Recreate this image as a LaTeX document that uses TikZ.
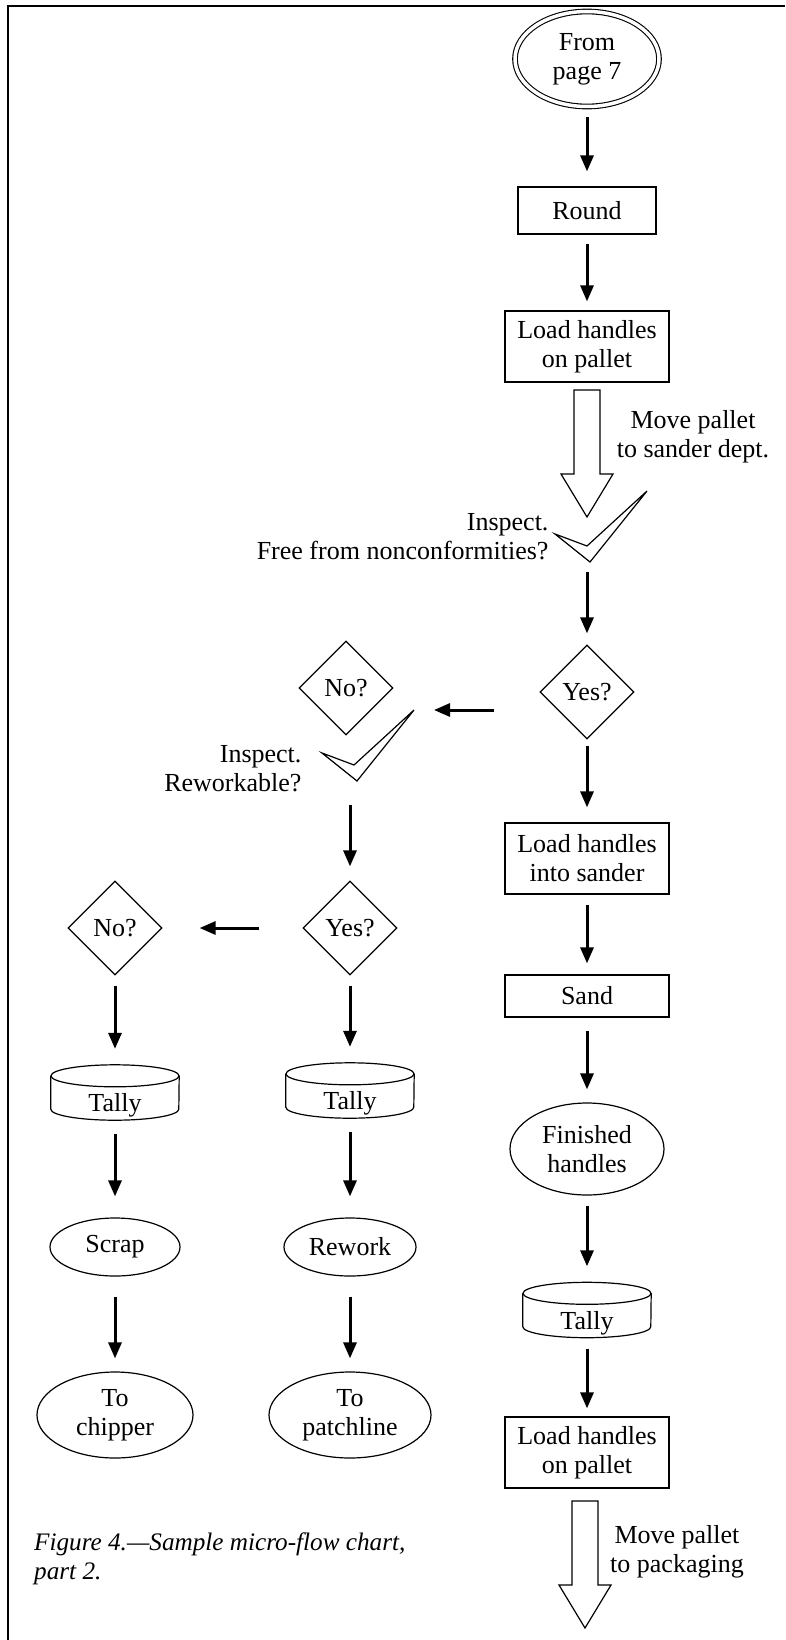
\documentclass[tikz,border=0pt]{standalone}
\usepackage{fontspec}
\setmainfont{Liberation Serif}
\usetikzlibrary{arrows.meta, shapes.geometric, calc}

\tikzset{
  chart/.style={line width=1.2pt},
  box/.style={chart, draw, rectangle, minimum width=164pt, inner sep=0pt, align=center},
  oval/.style={chart, draw, ellipse, inner sep=0pt, align=center},
  query/.style={chart, draw, diamond, minimum width=94pt, minimum height=94pt, inner sep=0pt},
  tallybox/.style={minimum width=128pt, minimum height=55pt, inner sep=0pt},
  flow/.style={line width=3pt, -{Triangle[length=16pt,width=13pt]}},
  check/.pic={\draw[chart, line join=miter] (0,0) -- (-35,-28) -- (-3,-16) -- (57,-71) -- cycle;},
  hollow/.pic={\draw[chart] (-13,0) -- (-13,84) -- (-26,84) -- (0,127) -- (26,84) -- (13,84) -- (13,0) -- cycle;}
}

% tally drum: name, position
\newcommand{\tallycan}[2]{%
  \node[tallybox] (#1) at (#2) {\raisebox{-19pt}[0pt][0pt]{Tally}};
  \draw[chart] ([yshift=-11pt]#1.north) ellipse [x radius=64pt, y radius=11pt];
  \draw[chart] ([yshift=-11pt]#1.north west) -- ([yshift=11pt]#1.south west)
    arc [start angle=180, end angle=360, x radius=64pt, y radius=11pt] -- ([yshift=-11pt]#1.north east);
}

\begin{document}
\begin{tikzpicture}[x=1pt, y=-1pt, every node/.style={font=\fontsize{26}{29}\selectfont}]
        \useasboundingbox (0,0) rectangle (785,1640);
        \draw[line width=1.5pt] (8,1640) -- (8,6) -- (785,6);

        % main line
        \node[oval, double, double distance=3.5pt, line width=1.1pt, minimum width=144pt, minimum height=95pt] (start) at (587,59) {From\\page 7};
        \node[box, minimum width=138pt, minimum height=47pt] (round) at (587,210.5) {Round};
        \node[box, minimum height=71pt] (loadA) at (587,346.5) {Load handles\\on pallet};
        \pic at (587,390) {hollow};
        \node[align=center] (moveA) at (693,437) {Move pallet\\to sander dept.};
        \coordinate (chkA) at (590,562);
        \pic at (chkA) {check};
        \node[align=right, anchor=east] (inspA) at (552,537) {Inspect.\\Free from nonconformities?};
        \node[query] (yesA) at (587,692) {Yes?};
        \node[box, minimum height=71pt] (loadB) at (587,858.5) {Load handles\\into sander};
        \node[box, minimum height=42pt] (sand) at (587,996) {Sand};
        \node[oval, minimum width=154pt, minimum height=92pt] (done) at (587,1149) {Finished\\handles};
        \tallycan{tallyC}{587,1310}
        \node[box, minimum height=71pt] (loadC) at (587,1452.5) {Load handles\\on pallet};
        \pic at (585,1501) {hollow};
        \node[align=center] (moveB) at (677,1552) {Move pallet\\to packaging};

        % rework branch
        \node[query] (noA) at (346,688) {No?};
        \coordinate (chkB) at (357,781);
        \pic at (chkB) {check};
        \coordinate (chkBr) at ($(chkB)+(57,-71)$);
        \node[align=right, anchor=east] (inspB) at (305,769) {Inspect.\\Reworkable?};
        \node[query] (yesB) at (350,928) {Yes?};
        \tallycan{tallyB}{350,1090.5}
        \node[oval, minimum width=132pt, minimum height=58pt] (rework) at (350,1247) {Rework};
        \node[oval, minimum width=162pt, minimum height=86pt] (patch) at (350,1415) {To\\patchline};

        % scrap branch
        \node[query] (noB) at (115,928) {No?};
        \tallycan{tallyA}{115,1092.5}
        \node[oval, minimum width=130pt, minimum height=58pt] (scrap) at (115,1247) {Scrap};
        \node[oval, minimum width=156pt, minimum height=86pt] (chipper) at (115,1415) {To\\chipper};

        \node[align=left, anchor=west, inner sep=0pt, font=\fontsize{25.2}{29}\selectfont\itshape] (caption) at (34,1559) {Figure 4.—Sample micro-flow chart,\\part 2.};

        \draw[flow, shorten <=10pt, shorten >=15pt] (start) -- (round);
        \draw[flow, shorten <=9pt, shorten >=9pt] (round) -- (loadA);
        \draw[flow, shorten <=10pt, shorten >=11pt] (yesA |- chkA) -- (yesA);
        \draw[flow, shorten <=45pt, shorten >=20pt] (yesA.west |- chkBr) -- (chkBr);
        \draw[flow, shorten <=6pt, shorten >=15pt] (yesA) -- (loadB);
        \draw[flow, shorten <=10pt, shorten >=11pt] (loadB) -- (sand);
        \draw[flow, shorten <=13pt, shorten >=13pt] (sand) -- (done);
        \draw[flow, shorten <=10pt, shorten >=16pt] (done) -- (tallyC);
        \draw[flow, shorten <=11pt, shorten >=8pt] (tallyC) -- (loadC);
        \draw[flow, shorten <=24pt, shorten >=14pt] (yesB |- chkB) -- (yesB);
        \draw[flow, shorten <=43pt, shorten >=37pt] (yesB.west) -- (noB.east);
        \draw[flow, shorten <=10pt, shorten >=16pt] (noB) -- (tallyA);
        \draw[flow, shorten <=10pt, shorten >=16pt] (yesB) -- (tallyB);
        \draw[flow, shorten <=14pt, shorten >=21pt] (tallyA) -- (scrap);
        \draw[flow, shorten <=14pt, shorten >=21pt] (tallyB) -- (rework);
        \draw[flow, shorten <=20pt, shorten >=13pt] (scrap) -- (chipper);
        \draw[flow, shorten <=20pt, shorten >=13pt] (rework) -- (patch);
    \end{tikzpicture}
\end{document}
